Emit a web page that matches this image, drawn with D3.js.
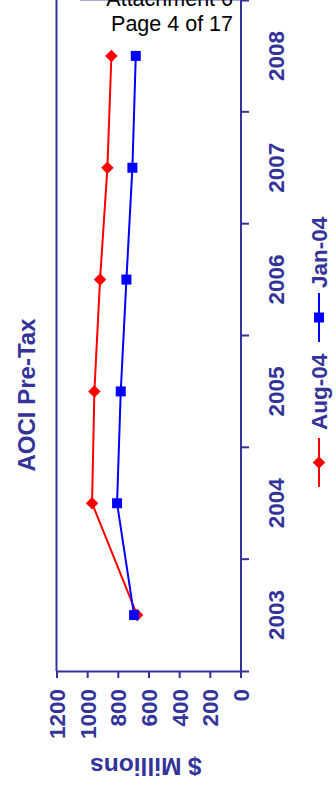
<!DOCTYPE html>
<html>
<head>
<meta charset="utf-8">
<script src="https://cdn.jsdelivr.net/npm/d3@7"></script>
<style>
  html, body { margin: 0; padding: 0; background: #fff; }
  svg { display: block; }
  text { font-family: "Liberation Sans", Arial, Helvetica, sans-serif; }
</style>
</head>
<body>
<svg id="chart" width="336" height="790"></svg>
<script>
// Years on the category axis
const years = ["2003", "2004", "2005", "2006", "2007", "2008"];
// AOCI pre-tax, $ millions
const aug04 = [674, 968, 953, 916, 868, 842];
const jan04 = [694, 805, 781, 744, 705, 683];
// Value axis ticks
const valueTicks = [0, 200, 400, 600, 800, 1000, 1200];
const seriesNames = ["Aug-04", "Jan-04"];

const AXIS = "#333399";
const svg = d3.select("#chart");

// Chart is laid out sideways: values run right-to-left along the bottom,
// years run bottom-to-top along the right edge.
const plot = { left: 56.5, right: 240.5, top: 0, bottom: 671 };

const x = d3.scaleLinear().domain([0, 1200]).range([plot.right, plot.left]);
const y = d3.scaleBand().domain(years).range([plot.bottom, plot.top]).paddingInner(0).paddingOuter(0);
const bw = y.bandwidth();
const yc = d => y(d) + bw / 2;

// Plot frame edges (left and top)
svg.append("line")
  .attr("x1", plot.left).attr("x2", plot.left)
  .attr("y1", plot.top).attr("y2", plot.bottom)
  .attr("stroke", AXIS).attr("stroke-width", 2);
svg.append("line")
  .attr("x1", 80).attr("x2", plot.right)
  .attr("y1", 0.5).attr("y2", 0.5)
  .attr("stroke", "#a8a8d8").attr("stroke-width", 1);

// Value axis along the bottom
const xAxis = svg.append("g")
  .attr("transform", `translate(0,${plot.bottom})`)
  .call(d3.axisBottom(x).tickValues(valueTicks).tickFormat(d3.format("d")).tickSize(7).tickSizeOuter(7));
xAxis.select(".domain").attr("stroke", AXIS).attr("stroke-width", 2);
xAxis.selectAll(".tick line").attr("stroke", AXIS).attr("stroke-width", 2);
xAxis.selectAll(".tick text")
  .attr("x", 0).attr("y", 0).attr("dy", "0.35em")
  .attr("transform", "translate(0,18) rotate(-90)")
  .attr("text-anchor", "end")
  .attr("fill", AXIS)
  .style("font-size", "22.5px").style("font-weight", "bold");

// Category axis along the right edge
const yAxis = svg.append("g")
  .attr("transform", `translate(${plot.right},0)`)
  .call(d3.axisRight(y).tickSize(0).tickSizeOuter(8.5));
yAxis.select(".domain").attr("stroke", AXIS).attr("stroke-width", 2);
yAxis.selectAll(".tick text")
  .attr("x", 0).attr("y", 0).attr("dy", 0)
  .attr("transform", "translate(43.5,0) rotate(-90)")
  .attr("text-anchor", "middle")
  .attr("fill", AXIS)
  .style("font-size", "22.5px").style("font-weight", "bold");
// Tick marks between year bands
yAxis.selectAll(".sep")
  .data(years.slice(0, -1))
  .join("line")
  .attr("class", "sep")
  .attr("x1", 0).attr("x2", 8.5)
  .attr("y1", d => y(d)).attr("y2", d => y(d))
  .attr("stroke", AXIS).attr("stroke-width", 2);

// Series
const series = [
  { name: seriesNames[0], values: aug04, color: "#ff0000", shape: "diamond" },
  { name: seriesNames[1], values: jan04, color: "#0000ff", shape: "square" }
];

const line = d3.line()
  .x(d => x(d.v))
  .y(d => yc(d.year));

function marker(sel, shape, color) {
  if (shape === "diamond") {
    sel.attr("d", d3.symbol(d3.symbolSquare, 78)())
       .attr("fill", color)
       .attr("transform", function () { return d3.select(this).attr("transform") + " rotate(45)"; });
  } else {
    sel.attr("d", d3.symbol(d3.symbolSquare, 100)()).attr("fill", color);
  }
}

series.forEach(s => {
  const pts = years.map((yr, i) => ({ year: yr, v: s.values[i] }));
  const g = svg.append("g");
  g.append("path")
    .datum(pts)
    .attr("d", line)
    .attr("fill", "none")
    .attr("stroke", s.color)
    .attr("stroke-width", 2);
  g.selectAll("path.pt")
    .data(pts)
    .join("path")
    .attr("class", "pt")
    .attr("transform", d => `translate(${x(d.v)},${yc(d.year)})`)
    .call(marker, s.shape, s.color);
});

// Legend, reading bottom-to-top
const legendX = 319;
const legendItems = [
  { s: series[0], lineFrom: 487, lineTo: 438, textY: 430 },
  { s: series[1], lineFrom: 342, lineTo: 293, textY: 288 }
];
legendItems.forEach(it => {
  const g = svg.append("g");
  g.append("line")
    .attr("x1", legendX).attr("x2", legendX)
    .attr("y1", it.lineFrom).attr("y2", it.lineTo)
    .attr("stroke", it.s.color).attr("stroke-width", 2);
  g.append("path")
    .attr("transform", `translate(${legendX},${(it.lineFrom + it.lineTo) / 2})`)
    .call(marker, it.s.shape, it.s.color);
  g.append("text")
    .attr("transform", `translate(${legendX + 8},${it.textY}) rotate(-90)`)
    .attr("text-anchor", "start")
    .attr("fill", AXIS)
    .style("font-size", "22.5px").style("font-weight", "bold")
    .text(it.s.name);
});

// Title and value-axis caption
svg.append("text")
  .attr("transform", "translate(34.5,395) rotate(-90)")
  .attr("text-anchor", "middle")
  .attr("fill", AXIS)
  .style("font-size", "24px").style("font-weight", "bold")
  .text("AOCI Pre-Tax");

svg.append("text")
  .attr("transform", "translate(146,758) rotate(180)")
  .attr("text-anchor", "middle")
  .attr("fill", AXIS)
  .style("font-size", "24.5px").style("font-weight", "bold")
  .text("$ Millions");

// Page header
const header = svg.append("text")
  .attr("text-anchor", "end")
  .attr("fill", "#000")
  .style("font-size", "21.5px");
header.append("tspan").attr("x", 233).attr("y", 5.5).text("Attachment 6");
header.append("tspan").attr("x", 233).attr("y", 31).text("Page 4 of 17");
</script>
</body>
</html>
